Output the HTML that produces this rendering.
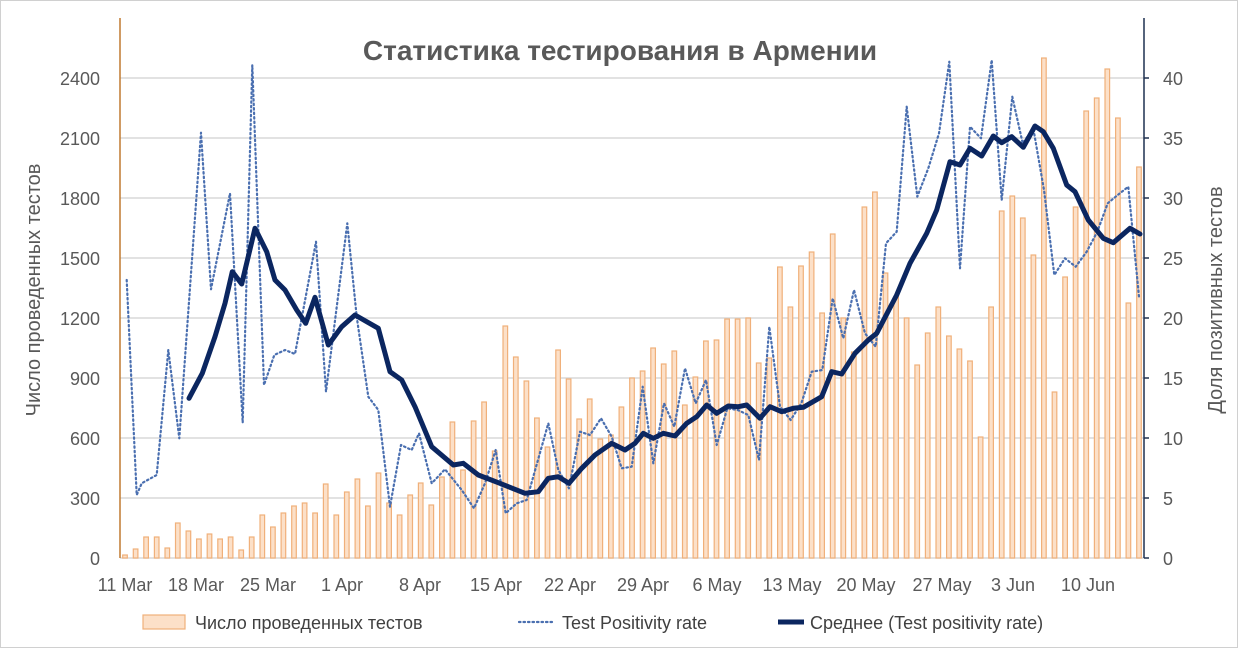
<!DOCTYPE html>
<html><head><meta charset="utf-8"><style>
html,body{margin:0;padding:0;background:#fff}
svg{display:block;font-family:"Liberation Sans",Arial,sans-serif}
</style></head><body>
<svg width="1238" height="648" viewBox="0 0 1238 648" xmlns="http://www.w3.org/2000/svg">
<rect x="0.5" y="0.5" width="1237" height="647" fill="#fff" stroke="#d0d0d0"/>
<g stroke="#d9d9d9" stroke-width="1.5">
<line x1="120" x2="1144" y1="78" y2="78"/><line x1="120" x2="1144" y1="138" y2="138"/>
<line x1="120" x2="1144" y1="198" y2="198"/><line x1="120" x2="1144" y1="258" y2="258"/>
<line x1="120" x2="1144" y1="318" y2="318"/><line x1="120" x2="1144" y1="378" y2="378"/>
<line x1="120" x2="1144" y1="438" y2="438"/><line x1="120" x2="1144" y1="498" y2="498"/>
<line x1="120" x2="1144" y1="558" y2="558"/>
</g>
<g fill="#fce0c8" stroke="#f0b07a" stroke-width="1.2">
<rect x="122.7" y="555" width="4.6" height="3"/>
<rect x="133.3" y="549" width="4.6" height="9"/>
<rect x="143.8" y="537" width="4.6" height="21"/>
<rect x="154.4" y="537" width="4.6" height="21"/>
<rect x="165" y="548" width="4.6" height="10"/>
<rect x="175.5" y="523" width="4.6" height="35"/>
<rect x="186.1" y="531" width="4.6" height="27"/>
<rect x="196.6" y="539" width="4.6" height="19"/>
<rect x="207.2" y="534" width="4.6" height="24"/>
<rect x="217.8" y="539" width="4.6" height="19"/>
<rect x="228.3" y="537" width="4.6" height="21"/>
<rect x="238.9" y="550" width="4.6" height="8"/>
<rect x="249.4" y="537" width="4.6" height="21"/>
<rect x="260" y="515" width="4.6" height="43"/>
<rect x="270.6" y="527" width="4.6" height="31"/>
<rect x="281.1" y="513" width="4.6" height="45"/>
<rect x="291.7" y="506" width="4.6" height="52"/>
<rect x="302.3" y="503" width="4.6" height="55"/>
<rect x="312.8" y="513" width="4.6" height="45"/>
<rect x="323.4" y="484" width="4.6" height="74"/>
<rect x="334" y="515" width="4.6" height="43"/>
<rect x="344.5" y="492" width="4.6" height="66"/>
<rect x="355.1" y="479" width="4.6" height="79"/>
<rect x="365.6" y="506" width="4.6" height="52"/>
<rect x="376.2" y="473" width="4.6" height="85"/>
<rect x="386.8" y="503" width="4.6" height="55"/>
<rect x="397.3" y="515" width="4.6" height="43"/>
<rect x="407.9" y="495" width="4.6" height="63"/>
<rect x="418.4" y="483" width="4.6" height="75"/>
<rect x="429" y="505" width="4.6" height="53"/>
<rect x="439.6" y="477" width="4.6" height="81"/>
<rect x="450.1" y="422" width="4.6" height="136"/>
<rect x="460.7" y="470" width="4.6" height="88"/>
<rect x="471.3" y="421" width="4.6" height="137"/>
<rect x="481.8" y="402" width="4.6" height="156"/>
<rect x="492.4" y="451" width="4.6" height="107"/>
<rect x="503" y="326" width="4.6" height="232"/>
<rect x="513.5" y="357" width="4.6" height="201"/>
<rect x="524.1" y="381" width="4.6" height="177"/>
<rect x="534.6" y="418" width="4.6" height="140"/>
<rect x="545.2" y="447" width="4.6" height="111"/>
<rect x="555.8" y="350" width="4.6" height="208"/>
<rect x="566.3" y="379" width="4.6" height="179"/>
<rect x="576.9" y="419" width="4.6" height="139"/>
<rect x="587.4" y="399" width="4.6" height="159"/>
<rect x="598" y="439" width="4.6" height="119"/>
<rect x="608.6" y="435" width="4.6" height="123"/>
<rect x="619.1" y="407" width="4.6" height="151"/>
<rect x="629.7" y="378" width="4.6" height="180"/>
<rect x="640.3" y="371" width="4.6" height="187"/>
<rect x="650.8" y="348" width="4.6" height="210"/>
<rect x="661.4" y="364" width="4.6" height="194"/>
<rect x="672" y="351" width="4.6" height="207"/>
<rect x="682.5" y="405" width="4.6" height="153"/>
<rect x="693.1" y="377" width="4.6" height="181"/>
<rect x="703.6" y="341" width="4.6" height="217"/>
<rect x="714.2" y="340" width="4.6" height="218"/>
<rect x="724.8" y="319" width="4.6" height="239"/>
<rect x="735.3" y="319" width="4.6" height="239"/>
<rect x="745.9" y="318" width="4.6" height="240"/>
<rect x="756.4" y="363" width="4.6" height="195"/>
<rect x="767" y="358" width="4.6" height="200"/>
<rect x="777.6" y="267" width="4.6" height="291"/>
<rect x="788.1" y="307" width="4.6" height="251"/>
<rect x="798.7" y="266" width="4.6" height="292"/>
<rect x="809.3" y="252" width="4.6" height="306"/>
<rect x="819.8" y="313" width="4.6" height="245"/>
<rect x="830.4" y="234" width="4.6" height="324"/>
<rect x="841" y="318" width="4.6" height="240"/>
<rect x="851.5" y="352" width="4.6" height="206"/>
<rect x="862.1" y="207" width="4.6" height="351"/>
<rect x="872.6" y="192" width="4.6" height="366"/>
<rect x="883.2" y="273" width="4.6" height="285"/>
<rect x="893.8" y="297" width="4.6" height="261"/>
<rect x="904.3" y="318" width="4.6" height="240"/>
<rect x="914.9" y="365" width="4.6" height="193"/>
<rect x="925.4" y="333" width="4.6" height="225"/>
<rect x="936" y="307" width="4.6" height="251"/>
<rect x="946.6" y="336" width="4.6" height="222"/>
<rect x="957.1" y="349" width="4.6" height="209"/>
<rect x="967.7" y="361" width="4.6" height="197"/>
<rect x="978.3" y="437" width="4.6" height="121"/>
<rect x="988.8" y="307" width="4.6" height="251"/>
<rect x="999.4" y="211" width="4.6" height="347"/>
<rect x="1010" y="196" width="4.6" height="362"/>
<rect x="1020.5" y="218" width="4.6" height="340"/>
<rect x="1031.1" y="255" width="4.6" height="303"/>
<rect x="1041.6" y="58" width="4.6" height="500"/>
<rect x="1052.2" y="392" width="4.6" height="166"/>
<rect x="1062.8" y="277" width="4.6" height="281"/>
<rect x="1073.3" y="207" width="4.6" height="351"/>
<rect x="1083.9" y="111" width="4.6" height="447"/>
<rect x="1094.4" y="98" width="4.6" height="460"/>
<rect x="1105" y="69" width="4.6" height="489"/>
<rect x="1115.6" y="118" width="4.6" height="440"/>
<rect x="1126.1" y="303" width="4.6" height="255"/>
<rect x="1136.7" y="167" width="4.6" height="391"/>
</g>
<polyline fill="none" stroke="#4a6fb0" stroke-width="2.2" stroke-dasharray="1.5,3" stroke-linecap="round" stroke-linejoin="round" points="126.7,280 136.7,495 141.7,483.3 156.7,475 168.3,350 179.3,438.3 201,132.7 211,289.3 230,193.3 242.7,422.7 252.3,65 264,385 274.3,355 285,350 295,354 316,241.7 326,391.7 347.3,223.3 356.7,316.7 368.3,396.7 378.3,410 390,506.7 401,445 411.7,450 419,433.3 431.7,483.3 445,469.3 461.7,490 474,508.3 485,483.3 495.7,450 505.7,513.3 516.7,503.3 526.7,500 548.3,423.3 558.3,470 569,488.3 580,431.7 590,435 601,418.3 611.7,436.7 621.7,468.3 631.7,466.7 642.7,386.7 653.3,463.3 664,403.3 674.3,426.7 685,368.3 695.7,403.3 706,380 716.7,445 727.3,408.3 737.7,410 748.3,415 759,460 769.3,326.7 780,406.7 790.7,420 801.3,403.3 811.7,371.7 822.3,370 832.7,298.3 843.3,338.3 854,290 865,333.3 875.7,346.7 886,243.3 896.7,231.7 906.7,106.7 917.3,196.7 928.3,168.3 939,133.3 949.3,61.7 960,268.3 970,126.7 981,138.3 991.7,60 1001.7,200 1012.3,96.7 1022.7,143.3 1033.3,128.3 1044,190 1054.3,275 1065,258.3 1075.7,266.7 1086.7,251.7 1097.3,231.7 1107.7,203.3 1117.7,195 1128.3,186.7 1139,296.7"/>
<polyline fill="none" stroke="#0b2660" stroke-width="5" stroke-linejoin="round" stroke-linecap="round" points="189,398.3 202.3,373.3 215,336.7 225,303.3 232.3,271.7 241.7,284 255,228.3 266.7,251.7 275,280 285,290 296.7,310 305.7,323.3 315,297.3 328.3,345 341.7,326.7 355,315 378.3,328.3 390,371.7 401.7,380 415,406.7 431.7,446.7 453.3,465 463.3,463.3 478.3,475 498.3,482.7 525,493.3 538.3,491.7 548.3,478.3 558.3,476.7 569,483.3 581.7,468.3 595,455 611.7,443.3 625,450 635,443.3 643.3,433.3 653.3,438.3 663.3,433.3 675,436 686.7,423.3 696.7,416.7 706.7,405 716.7,413.3 728.3,406 738.3,406.7 746.7,405 760,418.3 770,406.7 781.7,411.7 793.3,408.3 803.3,407.3 821.7,396.7 831.7,371.7 841.7,374 855,353.3 868.3,340 876.7,333.3 896.7,295 910,263.3 926.7,233.3 936.7,210 950,161.7 960,165 970,148.3 981.7,156 993.3,136 1001.7,142.7 1011.7,136.7 1023.3,147.3 1035,126 1043.3,131.7 1053.3,148.3 1066.7,185 1075,191.7 1088.3,220 1103.3,238.3 1113.3,242.7 1130,228.3 1140,234"/>
<line x1="120" y1="18" x2="120" y2="558" stroke="#c07a30" stroke-width="1.5"/>
<line x1="1144" y1="18" x2="1144" y2="558" stroke="#1f3050" stroke-width="1.5"/>
<g stroke="#1f3050" stroke-width="1.5">
<line x1="1144" x2="1149" y1="78" y2="78"/><line x1="1144" x2="1149" y1="138" y2="138"/><line x1="1144" x2="1149" y1="198" y2="198"/><line x1="1144" x2="1149" y1="258" y2="258"/><line x1="1144" x2="1149" y1="318" y2="318"/><line x1="1144" x2="1149" y1="378" y2="378"/><line x1="1144" x2="1149" y1="438" y2="438"/><line x1="1144" x2="1149" y1="498" y2="498"/><line x1="1144" x2="1149" y1="558" y2="558"/>
</g>
<text x="620" y="60" text-anchor="middle" font-size="28" font-weight="bold" fill="#595959">Статистика тестирования в Армении</text>
<g font-size="18" fill="#595959" text-anchor="end">
<text x="100" y="85">2400</text><text x="100" y="145">2100</text><text x="100" y="205">1800</text><text x="100" y="265">1500</text><text x="100" y="325">1200</text><text x="100" y="385">900</text><text x="100" y="445">600</text><text x="100" y="505">300</text><text x="100" y="565">0</text>
</g>
<g font-size="18" fill="#595959">
<text x="1163" y="85">40</text><text x="1163" y="145">35</text><text x="1163" y="205">30</text><text x="1163" y="265">25</text><text x="1163" y="325">20</text><text x="1163" y="385">15</text><text x="1163" y="445">10</text><text x="1163" y="505">5</text><text x="1163" y="565">0</text>
</g>
<g font-size="18" fill="#595959" text-anchor="middle">
<text x="125" y="591">11 Mar</text><text x="196" y="591">18 Mar</text><text x="268" y="591">25 Mar</text><text x="342" y="591">1 Apr</text><text x="420" y="591">8 Apr</text><text x="496" y="591">15 Apr</text><text x="570" y="591">22 Apr</text><text x="643" y="591">29 Apr</text><text x="717" y="591">6 May</text><text x="792" y="591">13 May</text><text x="866" y="591">20 May</text><text x="942" y="591">27 May</text><text x="1013" y="591">3 Jun</text><text x="1088" y="591">10 Jun</text>
</g>
<text transform="translate(40,290) rotate(-90)" text-anchor="middle" font-size="20" fill="#595959">Число проведенных тестов</text>
<text transform="translate(1222,300) rotate(-90)" text-anchor="middle" font-size="20" fill="#595959">Доля позитивных тестов</text>
<rect x="143" y="615" width="42" height="14" fill="#fce0c8" stroke="#f0b07a" stroke-width="1.2"/>
<text x="195" y="629" font-size="18" fill="#404040">Число проведенных тестов</text>
<line x1="519" y1="622" x2="555" y2="622" stroke="#4a6fb0" stroke-width="2.2" stroke-dasharray="1.5,3" stroke-linecap="round"/>
<text x="562" y="629" font-size="18" fill="#404040">Test Positivity rate</text>
<line x1="778" y1="622" x2="804" y2="622" stroke="#0b2660" stroke-width="5"/>
<text x="810" y="629" font-size="18" fill="#404040">Среднее (Test positivity rate)</text>
</svg>
</body></html>
